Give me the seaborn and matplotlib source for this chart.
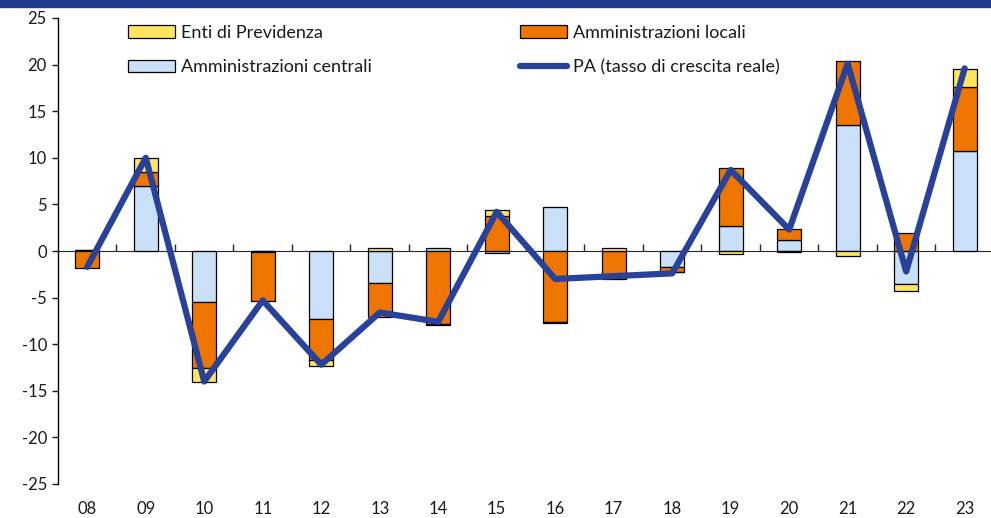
import numpy as np
import pandas as pd
import matplotlib
matplotlib.use("Agg")
import matplotlib.pyplot as plt
import seaborn as sb
from matplotlib.patches import Rectangle
from matplotlib.lines import Line2D
from matplotlib.patches import Patch

# dati
anni = ["08", "09", "10", "11", "12", "13", "14", "15",
        "16", "17", "18", "19", "20", "21", "22", "23"]
centrali = [0.1, 7.0, -5.5, -0.15, -7.3, -3.4, 0.3, -0.25,
            4.7, 0.0, -1.7, 2.7, 1.15, 13.55, -3.5, 10.7]
locali = [-1.85, 1.45, -7.0, -5.2, -4.4, -3.65, -7.8, 3.75,
          -7.6, -3.0, -0.5, 6.2, 1.25, 6.85, 1.9, 6.9]
previdenza = [0.0, 1.5, -1.6, 0.0, -0.6, 0.35, -0.1, 0.7,
              -0.1, 0.3, -0.1, -0.35, -0.1, -0.55, -0.8, 1.9]
pa_crescita = [-1.7, 10.0, -14.0, -5.3, -12.2, -6.6, -7.6, 4.2,
               -3.0, -2.7, -2.4, 8.7, 2.3, 20.1, -2.2, 19.6]

COL_CENTR = "#c9e0f8"
COL_LOC = "#ee7600"
COL_PREV = "#ffe45f"
COL_LINE = "#28419a"
FONT_SIZE = 12
LEG_SIZE = 13

sb.set_style("white")
plt.rcParams["font.family"] = ["Lato", "DejaVu Sans"]
plt.rcParams["axes.unicode_minus"] = False

fig = plt.figure(figsize=(9.91, 5.18), dpi=100)
ax = fig.add_axes([58 / 991, 1 - 484 / 518, 1 - 58 / 991, (484 - 18) / 518])

# barre impilate (positive e negative separate, come in Excel)
pos_base = np.zeros(len(anni))
neg_base = np.zeros(len(anni))
for nome, valori, col in [("Amministrazioni centrali", centrali, COL_CENTR),
                          ("Amministrazioni locali", locali, COL_LOC),
                          ("Enti di Previdenza", previdenza, COL_PREV)]:
    v = np.array(valori)
    base = np.where(v >= 0, pos_base, neg_base)
    df = pd.DataFrame({"anno": anni, "valore": v})
    sb.barplot(data=df, x="anno", y="valore", order=anni, color=col,
               saturation=1, width=0.41, bottom=base, edgecolor="black",
               linewidth=0.9, ax=ax)
    pos_base = pos_base + np.where(v > 0, v, 0)
    neg_base = neg_base + np.where(v < 0, v, 0)

sb.lineplot(x=np.arange(len(anni)), y=pa_crescita, color=COL_LINE,
            linewidth=4.5, ax=ax, zorder=5)

ax.set_xlim(-0.5, 15.45)
ax.set_ylim(-25, 25)
ax.set_yticks(np.arange(-25, 26, 5))
ax.set_xlabel("")
ax.set_ylabel("")
for s in ["top", "right", "bottom"]:
    ax.spines[s].set_visible(False)
ax.spines["left"].set_color("black")
ax.spines["left"].set_linewidth(1.0)
ax.tick_params(axis="y", left=True, direction="out", length=4, width=1,
               labelsize=FONT_SIZE, colors="#1a1a1a", pad=4)
ax.tick_params(axis="x", bottom=False, length=0, labelsize=FONT_SIZE,
               colors="#1a1a1a", pad=12)

# asse dello zero con tacche tra le categorie
zero_ax = ax.secondary_xaxis(0.5)
zero_ax.set_xticks(np.arange(len(anni)) + 0.5)
zero_ax.set_xticklabels([""] * len(anni))
zero_ax.tick_params(direction="out", length=5, width=1)
zero_ax.spines["bottom"].set_linewidth(1.0)

handles = [Patch(facecolor=COL_PREV, edgecolor="black", linewidth=0.9),
           Patch(facecolor=COL_CENTR, edgecolor="black", linewidth=0.9),
           Patch(facecolor=COL_LOC, edgecolor="black", linewidth=0.9),
           Line2D([], [], color=COL_LINE, linewidth=4.5)]
labels = ["Enti di Previdenza", "Amministrazioni centrali",
          "Amministrazioni locali", "PA (tasso di crescita reale)"]
fig.legend(handles, labels, ncol=2, loc="upper left",
           bbox_to_anchor=(128 / 991, 1 - 25 / 518), frameon=False,
           fontsize=LEG_SIZE, handlelength=2.6, handleheight=0.7,
           handletextpad=0.35, columnspacing=8.2, labelspacing=1.02,
           borderpad=0, borderaxespad=0, labelcolor="#1a1a1a")

# fascia blu in alto
fig.patches.append(Rectangle((0, 1 - 7 / 518), 1, 7 / 518,
                             transform=fig.transFigure, color="#203a8f"))

fig.savefig("out.png", dpi=100)
